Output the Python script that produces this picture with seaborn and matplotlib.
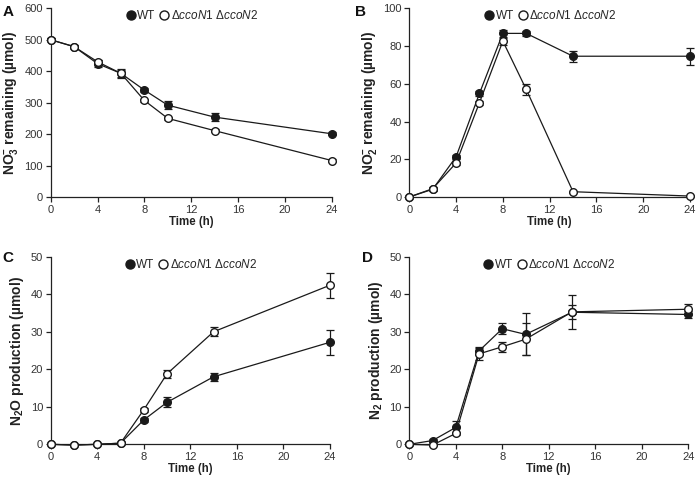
import numpy as np
import pandas as pd
import matplotlib
matplotlib.use("Agg")
import matplotlib.pyplot as plt
import seaborn as sns
from matplotlib.lines import Line2D

# ---------------- data ----------------
time_h = [0, 2, 4, 6, 8, 10, 14, 24]
series_names = ["WT", "ΔccoN1 ΔccoN2"]

no3_wt = [500, 478, 424, 393, 340, 292, 254, 201]
no3_wt_err = [4, 5, 12, 14, 7, 12, 12, 5]
no3_mut = [500, 478, 430, 393, 307, 250, 211, 116]
no3_mut_err = [4, 5, 5, 12, 6, 4, 4, 5]

no2_wt = [0, 4.1, 21.3, 54.9, 86.7, 86.7, 74.6, 74.6]
no2_wt_err = [0.3, 0.8, 1.2, 1.5, 2.0, 1.2, 3.0, 4.5]
no2_mut = [0, 4.4, 18.0, 50.0, 82.6, 57.0, 2.8, 0.5]
no2_mut_err = [0.3, 0.8, 0.8, 1.0, 1.8, 3.0, 0.5, 0.3]

n2o_wt = [0, -0.2, 0, 0.3, 6.5, 11.2, 18.0, 27.2]
n2o_wt_err = [0, 0, 0, 0.2, 0.6, 1.3, 1.1, 3.3]
n2o_mut = [0, -0.2, 0, 0.3, 9.2, 18.8, 30.0, 42.4]
n2o_mut_err = [0, 0, 0, 0.2, 0.5, 1.0, 1.2, 3.3]

n2_wt = [0, 1.0, 4.5, 24.9, 30.8, 29.3, 35.2, 34.6]
n2_wt_err = [0.3, 0.5, 1.7, 1.0, 1.5, 5.6, 1.8, 1.0]
n2_mut = [0, -0.2, 2.9, 24.1, 26.0, 28.0, 35.3, 36.0]
n2_mut_err = [0.3, 0.3, 0.5, 1.7, 1.3, 4.3, 4.5, 1.5]

panels = [
    ("A", "NO$_\\mathbf{3}^{\\mathbf{-}}$ remaining (µmol)", (0, 600), [0, 100, 200, 300, 400, 500, 600],
     no3_wt, no3_wt_err, no3_mut, no3_mut_err),
    ("B", "NO$_\\mathbf{2}^{\\mathbf{-}}$ remaining (µmol)", (0, 100), [0, 20, 40, 60, 80, 100],
     no2_wt, no2_wt_err, no2_mut, no2_mut_err),
    ("C", "N$_\\mathbf{2}$O production (µmol)", (0, 50), [0, 10, 20, 30, 40, 50],
     n2o_wt, n2o_wt_err, n2o_mut, n2o_mut_err),
    ("D", "N$_\\mathbf{2}$ production (µmol)", (0, 50), [0, 10, 20, 30, 40, 50],
     n2_wt, n2_wt_err, n2_mut, n2_mut_err),
]
x_ticks = [0, 4, 8, 12, 16, 20, 24]

# ---------------- style ----------------
sns.set_theme(style="ticks")
plt.rcParams["font.family"] = ["Liberation Sans", "DejaVu Sans"]
plt.rcParams["mathtext.fontset"] = "custom"
plt.rcParams["mathtext.rm"] = "Liberation Sans"
plt.rcParams["mathtext.it"] = "Liberation Sans:italic"
plt.rcParams["mathtext.bf"] = "Liberation Sans:bold"

fig = plt.figure(figsize=(7.0, 4.82), dpi=100)
positions = [
    (0.0724, 0.5913, 0.4014, 0.3915),
    (0.5847, 0.5913, 0.4010, 0.3915),
    (0.0724, 0.0782, 0.3990, 0.3892),
    (0.5847, 0.0782, 0.3986, 0.3892),
]
letter_pos = [(0.004, 0.990), (0.507, 0.990), (0.004, 0.480), (0.517, 0.480)]

ms = 5.5
lw = 0.9
ink = "#1a1a1a"
for (letter, ylabel, ylim, yticks, wt, wt_err, mut, mut_err), pos, lp in zip(panels, positions, letter_pos):
    ax = fig.add_axes(pos)
    df = pd.DataFrame({
        "time": time_h * 2,
        "value": list(wt) + list(mut),
        "strain": [series_names[0]] * len(time_h) + [series_names[1]] * len(time_h),
    })
    # error bars
    ax.errorbar(time_h, wt, yerr=wt_err, fmt="none", ecolor=ink, elinewidth=lw,
                capsize=3, capthick=lw, zorder=2, clip_on=False)
    ax.errorbar(time_h, mut, yerr=mut_err, fmt="none", ecolor=ink, elinewidth=lw,
                capsize=3, capthick=lw, zorder=4, clip_on=False)
    # lines + markers via seaborn
    sns.lineplot(data=df[df.strain == series_names[0]], x="time", y="value", ax=ax,
                 color=ink, linewidth=lw, marker="o", markersize=ms,
                 markerfacecolor=ink, markeredgecolor=ink, markeredgewidth=1.0,
                 legend=False, zorder=3, clip_on=False)
    sns.lineplot(data=df[df.strain == series_names[1]], x="time", y="value", ax=ax,
                 color=ink, linewidth=lw, marker="o", markersize=ms,
                 markerfacecolor="white", markeredgecolor=ink, markeredgewidth=1.0,
                 legend=False, zorder=5, clip_on=False)

    ax.set_xlim(0, 24)
    ax.set_ylim(*ylim)
    ax.set_xticks(x_ticks)
    ax.set_yticks(yticks)
    ax.set_xlabel("Time (h)", fontsize=8.3, fontweight="bold", labelpad=1, color="#222222")
    ax.set_ylabel(ylabel, fontsize=10, fontweight="bold", labelpad=3, color="#222222")
    ax.tick_params(axis="both", labelsize=8, length=3.5, width=0.9, direction="out",
                   pad=2, colors="#222222", labelcolor="#333333")
    for s in ["top", "right"]:
        ax.spines[s].set_visible(False)
    for s in ["left", "bottom"]:
        ax.spines[s].set_linewidth(0.9)
        ax.spines[s].set_color("#222222")

    handles = [
        Line2D([], [], linestyle="none", marker="o", markersize=6.5, markerfacecolor=ink,
               markeredgecolor=ink),
        Line2D([], [], linestyle="none", marker="o", markersize=6.5, markerfacecolor="white",
               markeredgecolor=ink, markeredgewidth=1.0),
    ]
    labels = ["WT", "Δ$\\mathit{ccoN1}$ Δ$\\mathit{ccoN2}$"]
    ax.legend(handles, labels, loc="upper center", bbox_to_anchor=(0.5, 0.995), ncol=2,
              frameon=False, fontsize=8.5, handletextpad=0.05, columnspacing=0.25,
              handlelength=1.0, borderaxespad=0, borderpad=0)

    fig.text(lp[0], lp[1], letter, fontsize=11, fontweight="bold", ha="left", va="top",
             color="#111111")

fig.savefig("out.png", dpi=100)
